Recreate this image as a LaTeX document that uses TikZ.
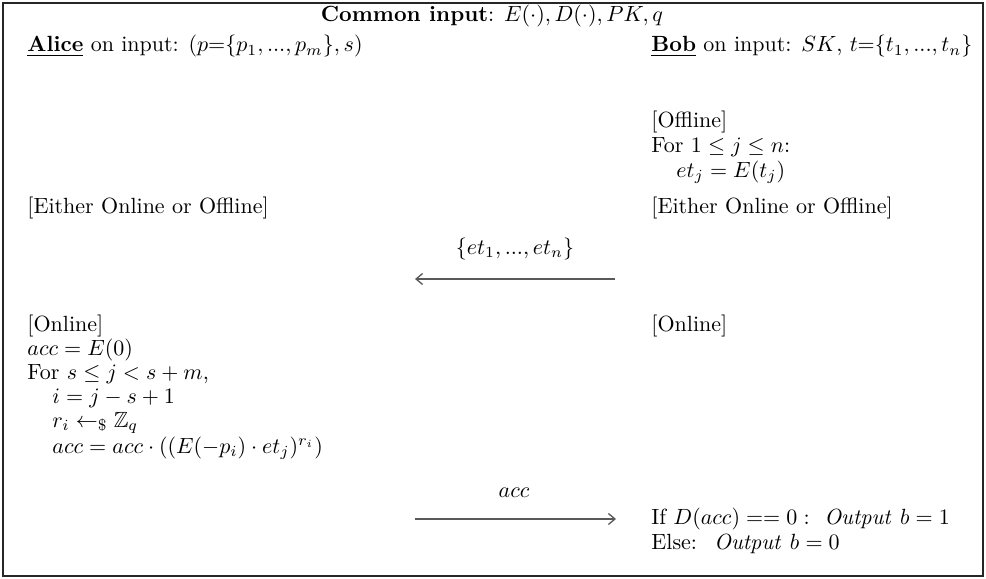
\documentclass[tikz,border=0pt]{standalone}
\usepackage{amsmath,amssymb}
\usetikzlibrary{arrows.meta}
\begin{document}
\begin{tikzpicture}[x=0.4545pt,y=-0.4545pt,
  txt/.style={inner sep=0pt, anchor=base west},
  msg/.style={draw=black!65, line width=0.6pt, -{Straight Barb[length=3pt,width=5pt]}}]
\useasboundingbox (0,0) rectangle (986,579);
\draw[line width=0.6pt, draw=black!85] (3,3) rectangle (983,576);
% header
\node[inner sep=0pt, anchor=base] (common) at (492,22) {\textbf{Common input}: $E(\cdot), D(\cdot), PK, q$};
\node[txt] (alice) at (27,52) {\underline{\textbf{Alice}} on input: $(p{=}\{p_1,...,p_m\}, s)$};
\node[txt] (bob) at (651,52) {\underline{\textbf{Bob}} on input: $SK$, $t{=}\{t_1,...,t_n\}$};
% Bob offline
\node[txt] (boff) at (651,128) {[Offline]};
\node[txt] (bfor) at (651,153) {For $1 \leq j \leq n$:};
\node[txt] (benc) at (676,177) {$et_j = E(t_j)$};
% either
\node[txt] (aeither) at (27,213) {[Either Online or Offline]};
\node[txt] (beither) at (651,213) {[Either Online or Offline]};
% message 1
\coordinate (m1s) at (615,279);
\coordinate (m1e) at (415,279);
\draw[msg] (m1s) -- (m1e);
\node[inner sep=0pt, anchor=base] (m1lab) at (515,254) {$\{et_1,...,et_n\}$};
% online
\node[txt] (aon) at (27,331) {[Online]};
\node[txt] (bon) at (651,331) {[Online]};
\node[txt] (ainit) at (27,355) {$acc = E(0)$};
\node[txt] (afor) at (27,379) {For $s \leq j < s+m$,};
\node[txt] (ai) at (52,403) {$i = j - s + 1$};
\node[txt] (ar) at (52,427) {$r_i \leftarrow_{\$} \mathbb{Z}_q$};
\node[txt] (aacc) at (52,453) {$acc = acc \cdot ((E(-p_i) \cdot et_j)^{r_i})$};
% message 2
\coordinate (m2s) at (415,519);
\coordinate (m2e) at (616,519);
\draw[msg] (m2s) -- (m2e);
\node[inner sep=0pt, anchor=base] (m2lab) at (514,497) {$acc$};
% Bob output
\node[txt] (bif) at (651,524) {If $D(acc) == 0:$~ $\mathit{Output}\ b = 1$};
\node[txt] (belse) at (651,549) {Else:~ $\mathit{Output}\ b = 0$};
\end{tikzpicture}
\end{document}
